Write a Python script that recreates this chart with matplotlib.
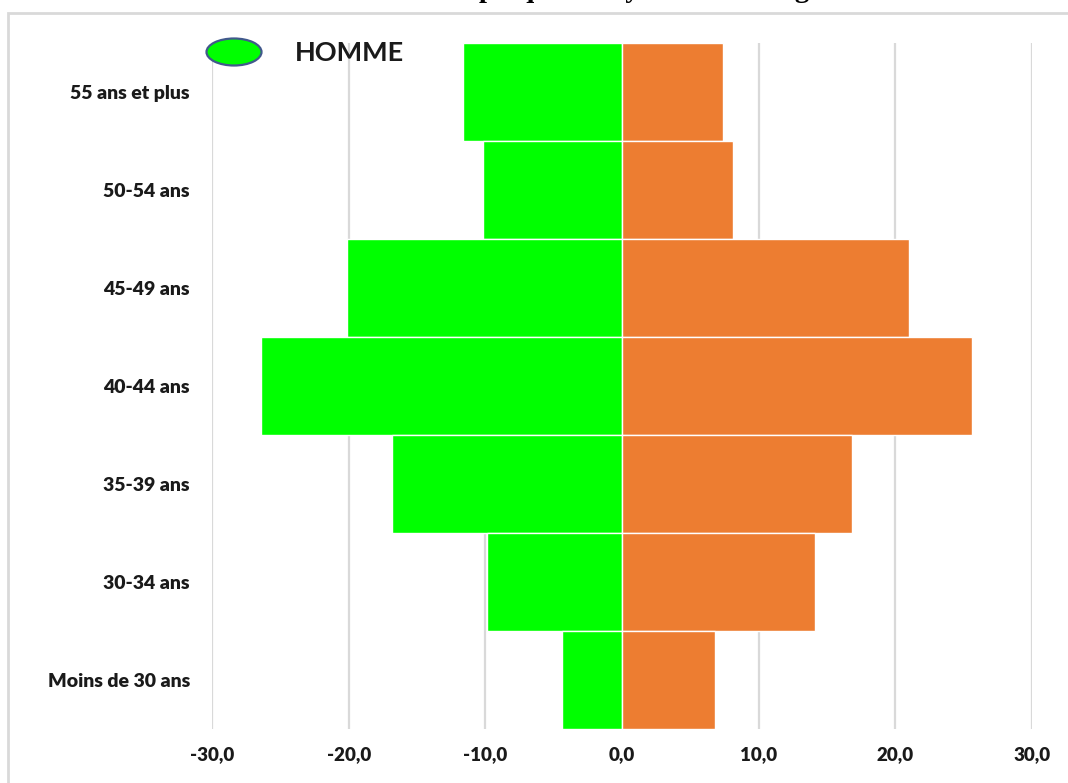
import matplotlib.pyplot as plt
from matplotlib.patches import Ellipse, Rectangle

# age groups, oldest first (top of the pyramid)
age_groups = ["55 ans et plus", "50-54 ans", "45-49 ans", "40-44 ans",
              "35-39 ans", "30-34 ans", "Moins de 30 ans"]
hommes = [11.6, 10.2, 20.1, 26.4, 16.8, 9.9, 4.4]
femmes = [7.4, 8.1, 21.0, 25.6, 16.8, 14.1, 6.8]
x_ticks = [-30, -20, -10, 0, 10, 20, 30]
x_ticklabels = ["-30,0", "-20,0", "-10,0", "0,0", "10,0", "20,0", "30,0"]

W, H = 1068, 783
fig = plt.figure(figsize=(W / 100, H / 100), dpi=100)
fig.patch.set_facecolor("white")

# chart frame (runs off the right and bottom edges)
fig.add_artist(Rectangle((8 / W, -0.1), 1.2, 1 - 13 / H + 0.1,
                         transform=fig.transFigure, fill=False,
                         edgecolor="#d9d9d9", linewidth=2))

ax = fig.add_axes([212 / W, 1 - 729 / H, (1032 - 212) / W, (729 - 43) / H])

pos = list(range(len(age_groups)))[::-1]
ax.barh(pos, [-v for v in hommes], height=1.0, color="#00ff00",
        edgecolor="white", linewidth=1, zorder=2)
ax.barh(pos, femmes, height=1.0, color="#ed7d31",
        edgecolor="white", linewidth=1, zorder=2)

ax.set_xlim(-30, 30)
ax.set_ylim(-0.5, len(age_groups) - 0.5)
ax.set_xticks(x_ticks)
ax.set_xticklabels(x_ticklabels)
ax.set_yticks(pos)
ax.set_yticklabels(age_groups)
ax.grid(axis="x", color="#d9d9d9", linewidth=1.6, zorder=0)
ax.set_axisbelow(True)
for s in ax.spines.values():
    s.set_visible(False)
ax.tick_params(length=0)
ax.tick_params(axis="y", pad=16)
ax.tick_params(axis="x", pad=12)
for lbl in ax.get_xticklabels():
    lbl.set_fontfamily("Lato")
    lbl.set_fontweight("heavy")
    lbl.set_fontsize(13.5)
    lbl.set_color("#1a1a1a")
for lbl in ax.get_yticklabels():
    lbl.set_fontfamily("Lato")
    lbl.set_fontweight("heavy")
    lbl.set_fontsize(14)
    lbl.set_color("#1a1a1a")

# legend drawn as a shape + label
fig.add_artist(Ellipse((234 / W, 1 - 52 / H), 55 / W, 27 / H,
                       transform=fig.transFigure, facecolor="#00ff00",
                       edgecolor="#41598c", linewidth=1.6, zorder=5))
fig.text(295 / W, 1 - 53 / H, "HOMME", fontfamily="Lato", fontweight="bold",
         fontsize=19.5, va="center", ha="left", color="#1a1a1a", zorder=5)

# title sits above the frame, only its lower edge falls inside the figure
fig.text(632 / W, 1 + 3 / H, "Graphique 1 : Pyramide des âges",
         fontfamily="Liberation Serif", fontweight="bold", fontsize=20.5,
         ha="center", va="baseline", color="black")

fig.savefig("out.png", dpi=100)
